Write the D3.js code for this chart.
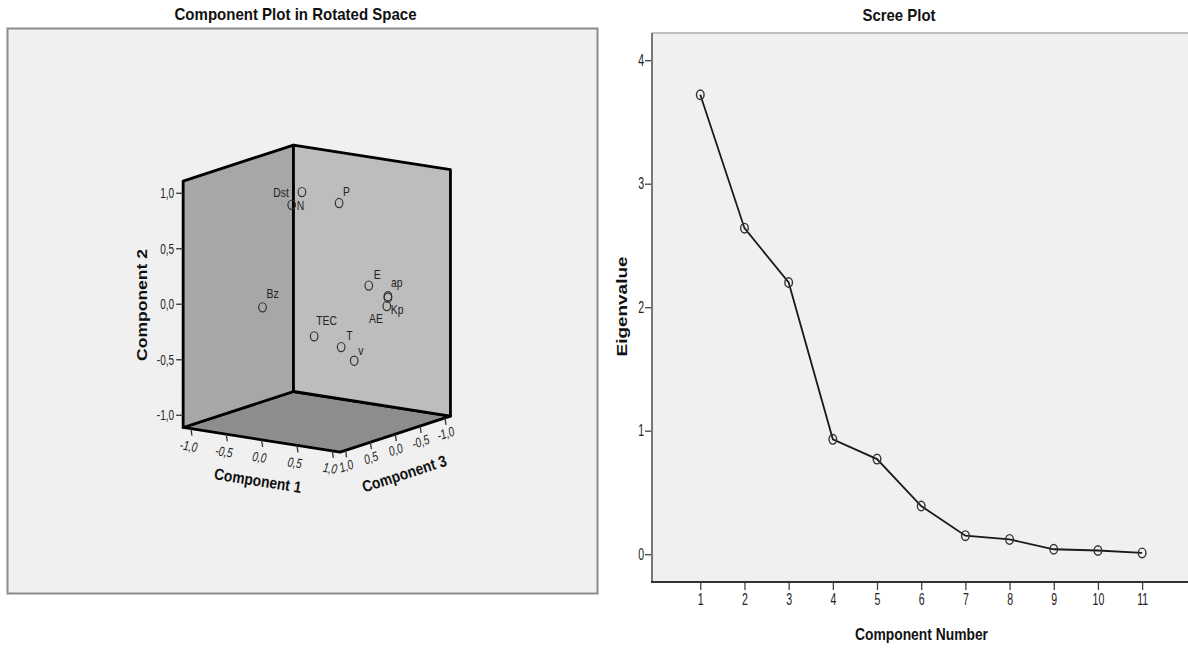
<!DOCTYPE html>
<html>
<head>
<meta charset="utf-8">
<script src="https://cdn.jsdelivr.net/npm/d3@7"></script>
<style>
body { margin: 0; background: #fff; }
svg { display: block; font-family: "Liberation Sans", Arial, sans-serif; }
</style>
</head>
<body>
<svg id="chart" width="1188" height="651"></svg>
<script>
// rotated component loadings
const variables = ['Dst', 'N', 'P', 'E', 'ap', 'AE', 'Kp', 'TEC', 'T', 'v', 'Bz'];
const comp1 = [-0.14, -0.32, 0.21, 0.70, 0.90, 0.88, 0.92, 0.30, 0.45, 0.55, -0.10];
const comp2 = [0.96, 0.82, 0.86, 0.18, 0.09, 0.07, 0.01, -0.24, -0.37, -0.50, 0.05];
const comp3 = [0.10, 0.05, -0.15, -0.05, -0.15, -0.18, -0.10, 0.48, 0.15, 0.03, 0.95];
const loadingTicks = [-1, -0.5, 0, 0.5, 1];

// scree plot
const componentNumbers = [1, 2, 3, 4, 5, 6, 7, 8, 9, 10, 11];
const eigenvalues = [3.72, 2.64, 2.20, 0.93, 0.77, 0.39, 0.15, 0.12, 0.04, 0.03, 0.01];
const eigenTicks = [0, 1, 2, 3, 4];

// where each point label sits relative to its marker [dx, dy, anchor]
const labelPos = {
    Dst: [-13, 5, 'end'], N: [5, 5, 'start'], P: [4, -7, 'start'], E: [5, -7, 'start'],
    ap: [3, -9, 'start'], AE: [-5, 25, 'end'], Kp: [4, 8, 'start'], TEC: [2, -11, 'start'],
    T: [5, -7, 'start'], v: [4, -6, 'start'], Bz: [4, -9, 'start']
};

const fmt = d => d3.format('.1f')(d).replace('.', ',').replace('−', '-');
const svg = d3.select('#chart');

// ---------- left panel ----------
const left = svg.append('g');

left.append('rect')
    .attr('x', 7.5).attr('y', 28.5)
    .attr('width', 590).attr('height', 565)
    .attr('fill', '#f0f0f0')
    .attr('stroke', '#8c8c8c')
    .attr('stroke-width', 2);

left.append('text')
    .attr('x', 295.5).attr('y', 20)
    .attr('text-anchor', 'middle')
    .attr('font-size', 17).attr('font-weight', 'bold')
    .attr('textLength', 242).attr('lengthAdjust', 'spacingAndGlyphs')
    .attr('fill', '#111')
    .text('Component Plot in Rotated Space');

// oblique projection of the three loading axes
const origin = [316.8, 298.6];
const L = 1.11;
const x1 = d3.scaleLinear().domain([-1, 1]).range([-70.7, 70.7]);
const y1 = d3.scaleLinear().domain([-1, 1]).range([-11.1, 11.1]);
const y2 = d3.scaleLinear().domain([-1, 1]).range([111, -111]);
const x3 = d3.scaleLinear().domain([-1, 1]).range([49.7, -49.7]);
const y3 = d3.scaleLinear().domain([-1, 1]).range([-16.2, 16.2]);
const proj = (a, b, c) => [origin[0] + x1(a) + x3(c), origin[1] + y1(a) + y2(b) + y3(c)];

const faces = [
    { fill: '#8d8d8d', pts: [[-L, -L, L], [L, -L, L], [L, -L, -L], [-L, -L, -L]] },   // floor
    { fill: '#a7a7a7', pts: [[-L, -L, L], [-L, L, L], [-L, L, -L], [-L, -L, -L]] },   // comp1 wall
    { fill: '#bdbdbd', pts: [[-L, -L, -L], [-L, L, -L], [L, L, -L], [L, -L, -L]] }    // comp3 wall
];

left.selectAll('.face')
    .data(faces)
    .enter()
    .append('polygon')
    .attr('class', 'face')
    .attr('points', d => d.pts.map(p => proj(...p).join(',')).join(' '))
    .attr('fill', d => d.fill)
    .attr('stroke', '#000')
    .attr('stroke-width', 2.8)
    .attr('stroke-linejoin', 'round');

// component 2 axis (left vertical edge)
loadingTicks.forEach(t => {
    const p = proj(-L, t, L);
    left.append('line')
        .attr('x1', p[0]).attr('y1', p[1]).attr('x2', p[0] - 7).attr('y2', p[1])
        .attr('stroke', '#333').attr('stroke-width', 1.3);
    left.append('text')
        .attr('transform', `translate(${p[0] - 9},${p[1] + 5}) scale(0.72,1)`)
        .attr('text-anchor', 'end')
        .attr('font-size', 14).attr('fill', '#222')
        .text(fmt(t));
});

// component 1 axis (front-left floor edge)
loadingTicks.forEach(t => {
    const p = proj(t, -L, L);
    left.append('line')
        .attr('x1', p[0]).attr('y1', p[1]).attr('x2', p[0] + 1).attr('y2', p[1] + 7)
        .attr('stroke', '#333').attr('stroke-width', 1.3);
    left.append('text')
        .attr('transform', `translate(${p[0] - 3},${p[1] + 22}) rotate(9) scale(0.75,1)`)
        .attr('text-anchor', 'middle')
        .attr('font-size', 13.5).attr('font-style', 'italic').attr('fill', '#222')
        .text(fmt(t));
});

// component 3 axis (front-right floor edge)
loadingTicks.forEach(t => {
    const p = proj(L, -L, t);
    left.append('line')
        .attr('x1', p[0]).attr('y1', p[1]).attr('x2', p[0] + 1).attr('y2', p[1] + 7)
        .attr('stroke', '#333').attr('stroke-width', 1.3);
    left.append('text')
        .attr('transform', `translate(${p[0] + 2},${p[1] + 20}) rotate(-18) scale(0.75,1)`)
        .attr('text-anchor', 'middle')
        .attr('font-size', 13.5).attr('font-style', 'italic').attr('fill', '#222')
        .text(fmt(t));
});

// axis titles
left.append('text')
    .attr('transform', 'translate(147,305) rotate(-90) scale(1,0.8)')
    .attr('text-anchor', 'middle')
    .attr('font-size', 18).attr('font-weight', 'bold').attr('fill', '#111')
    .attr('textLength', 112).attr('lengthAdjust', 'spacingAndGlyphs')
    .text('Component 2');

left.append('text')
    .attr('transform', 'translate(257,486) rotate(9)')
    .attr('text-anchor', 'middle')
    .attr('font-size', 16).attr('font-weight', 'bold').attr('fill', '#111')
    .attr('textLength', 88).attr('lengthAdjust', 'spacingAndGlyphs')
    .text('Component 1');

left.append('text')
    .attr('transform', 'translate(406,479) rotate(-18)')
    .attr('text-anchor', 'middle')
    .attr('font-size', 16).attr('font-weight', 'bold').attr('fill', '#111')
    .attr('textLength', 88).attr('lengthAdjust', 'spacingAndGlyphs')
    .text('Component 3');

// loading points
const points = variables.map((name, i) => {
    const p = proj(comp1[i], comp2[i], comp3[i]);
    return { name, x: p[0], y: p[1] };
});

left.selectAll('.pt')
    .data(points)
    .enter()
    .append('ellipse')
    .attr('class', 'pt')
    .attr('cx', d => d.x).attr('cy', d => d.y)
    .attr('rx', 3.8).attr('ry', 4.6)
    .attr('fill', 'none')
    .attr('stroke', '#333')
    .attr('stroke-width', 1.2);

left.selectAll('.pt-label')
    .data(points)
    .enter()
    .append('text')
    .attr('class', 'pt-label')
    .attr('transform', d => `translate(${d.x + labelPos[d.name][0]},${d.y + labelPos[d.name][1]}) scale(0.8,1)`)
    .attr('text-anchor', d => labelPos[d.name][2])
    .attr('font-size', 13).attr('fill', '#222')
    .text(d => d.name);

// ---------- right panel: scree plot ----------
const right = svg.append('g');

const x = d3.scaleLinear().domain([0, 12]).range([656.1, 1186.3]);
const y = d3.scaleLinear().domain([0, 4]).range([554.2, 60.2]);

right.append('rect')
    .attr('x', 652).attr('y', 33)
    .attr('width', 540).attr('height', 549)
    .attr('fill', '#f0f0f0')
    .attr('stroke', '#999')
    .attr('stroke-width', 1.2);

right.append('text')
    .attr('x', 899).attr('y', 21)
    .attr('text-anchor', 'middle')
    .attr('font-size', 17).attr('font-weight', 'bold')
    .attr('textLength', 73).attr('lengthAdjust', 'spacingAndGlyphs')
    .attr('fill', '#111')
    .text('Scree Plot');

const xAxisG = right.append('g')
    .attr('transform', 'translate(0,582)')
    .call(d3.axisBottom(x).tickValues(componentNumbers).tickSize(8).tickPadding(4).tickFormat(d3.format('d')));

const yAxisG = right.append('g')
    .attr('transform', 'translate(652,0)')
    .call(d3.axisLeft(y).tickValues(eigenTicks).tickSize(7).tickPadding(5).tickFormat(d3.format('d')));

[xAxisG, yAxisG].forEach(g => {
    g.select('.domain').remove();
    g.selectAll('.tick line').attr('stroke', '#444').attr('stroke-width', 1.3);
    g.selectAll('.tick text')
        .attr('font-size', 16)
        .attr('font-family', '"Liberation Sans", Arial, sans-serif')
        .attr('fill', '#222')
        .attr('transform', 'scale(0.66,1)');
});

right.append('line')
    .attr('x1', 652).attr('y1', 33).attr('x2', 652).attr('y2', 582)
    .attr('stroke', '#777').attr('stroke-width', 2);
right.append('line')
    .attr('x1', 651).attr('y1', 582).attr('x2', 1188).attr('y2', 582)
    .attr('stroke', '#333').attr('stroke-width', 2);

right.append('text')
    .attr('x', 921.5).attr('y', 640)
    .attr('text-anchor', 'middle')
    .attr('font-size', 17).attr('font-weight', 'bold').attr('fill', '#111')
    .attr('textLength', 133).attr('lengthAdjust', 'spacingAndGlyphs')
    .text('Component Number');

right.append('text')
    .attr('transform', 'translate(627,306.5) rotate(-90) scale(1,0.8)')
    .attr('text-anchor', 'middle')
    .attr('font-size', 19).attr('font-weight', 'bold').attr('fill', '#111')
    .attr('textLength', 100).attr('lengthAdjust', 'spacingAndGlyphs')
    .text('Eigenvalue');

const scree = componentNumbers.map((c, i) => ({ c, v: eigenvalues[i] }));

right.append('path')
    .datum(scree)
    .attr('d', d3.line().x(d => x(d.c)).y(d => y(d.v)))
    .attr('fill', 'none')
    .attr('stroke', '#1a1a1a')
    .attr('stroke-width', 1.8);

right.selectAll('.scree-pt')
    .data(scree)
    .enter()
    .append('ellipse')
    .attr('class', 'scree-pt')
    .attr('cx', d => x(d.c)).attr('cy', d => y(d.v))
    .attr('rx', 3.8).attr('ry', 4.8)
    .attr('fill', 'none')
    .attr('stroke', '#333')
    .attr('stroke-width', 1.4);
</script>
</body>
</html>
